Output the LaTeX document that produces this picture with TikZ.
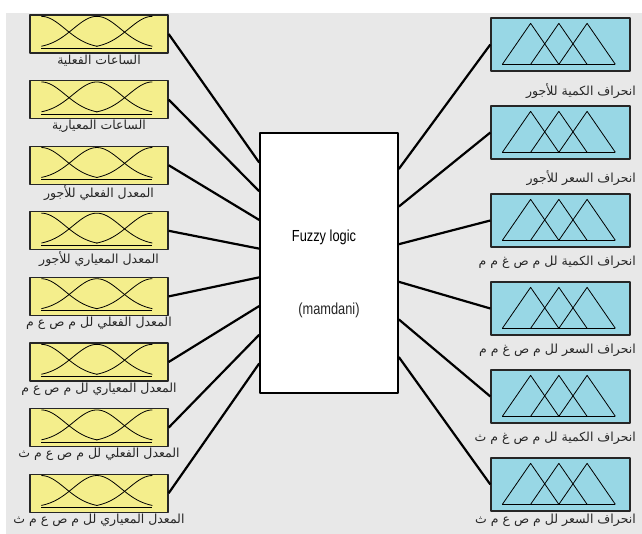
\documentclass[tikz,border=0pt]{standalone}
\usepackage{fontspec}
\setmainfont{Liberation Sans}
\newfontfamily\arabicfont[Script=Arabic]{DejaVu Sans}
\newfontfamily\narrowfont[FakeStretch=0.8]{Liberation Sans}
\TeXXeTstate=1
\usepackage{xcolor}
\usepackage{tikz}
\usetikzlibrary{positioning}

\definecolor{inyellow}{RGB}{244,238,140}
\definecolor{outcyan}{RGB}{152,215,229}
\definecolor{bggray}{RGB}{232,232,232}

\begin{document}
\begin{tikzpicture}[x=1pt, y=-1pt, line join=round,
    inbox/.style={draw=black!85, line width=1.3pt, fill=inyellow,
      minimum width=138pt, minimum height=38pt, inner sep=0pt},
    outbox/.style={draw=black!85, line width=1.3pt, fill=outcyan,
      minimum width=139pt, minimum height=53pt, inner sep=0pt},
    mf/.style={line width=0.8pt, black},
    lbl/.style={font=\arabicfont\fontsize{12.5}{14}\selectfont, inner sep=1pt, text=black!85},
    link/.style={line width=2.2pt, black}]
    \useasboundingbox (0,0) rectangle (642,534);
    \fill[bggray] (6,13) rectangle (642,534);

    % rule block
    \node[draw, line width=1.6pt, fill=white, minimum width=138pt,
      minimum height=260pt, inner sep=0pt] (fis) at (329,263) {};
    \node[font=\narrowfont\fontsize{16}{18}\selectfont] (fistitle) at (324,237) {Fuzzy logic};
    \node[font=\narrowfont\fontsize{16}{18}\selectfont, text=black!85] (fistype) at (329,310) {(mamdani)};

    % inputs
    \foreach \i/\t in {1/{الساعات الفعلية}, 2/{الساعات المعيارية},
        3/{المعدل الفعلي للأجور}, 4/{المعدل المعياري للأجور},
        5/{المعدل الفعلي لل م ص ع م}, 6/{المعدل المعياري لل م ص ع م},
        7/{المعدل الفعلي لل م ص ع م ث}, 8/{المعدل المعياري لل م ص ع م ث}}{
      \node[inbox] (in\i) at (99,{34+65.6*(\i-1)}) {};
      \begin{scope}[shift={(in\i.north west)}]
        \draw[mf] (12,34) -- (123,34);
        \draw[mf] plot[domain=12:68, samples=30]
          (\x,{2+32*(1-exp(-((\x-12)^2)/1133))});
        \draw[mf] plot[domain=12:123, samples=50]
          (\x,{2+32*(1-exp(-((\x-67.5)^2)/1133))});
        \draw[mf] plot[domain=67:123, samples=30]
          (\x,{2+32*(1-exp(-((\x-123)^2)/1133))});
      \end{scope}
      \node[lbl, below=0pt of in\i] (inlbl\i) {\beginR\t\endR};
      \draw[link] (in\i.east) -- ([yshift={(4.5-\i)*28.7pt}]fis.west);
    }

    % outputs
    \foreach \i/\ly/\t in {1/91/{انحراف الكمية للأجور}, 2/178/{انحراف السعر للأجور},
        3/262/{انحراف الكمية لل م ص غ م م}, 4/350/{انحراف السعر لل م ص غ م م},
        5/438/{انحراف الكمية لل م ص غ م ث}, 6/520/{انحراف السعر لل م ص ع م ث}}{
      \node[outbox] (out\i) at (560.5,{44.5+88*(\i-1)}) {};
      \begin{scope}[shift={(out\i.north west)}]
        \draw[mf] (12,47) -- (125,47);
        \foreach \k in {0,1,2}{
          \draw[mf] ({12+28.25*\k},47) -- ({40.25+28.25*\k},6) -- ({68.5+28.25*\k},47);
        }
      \end{scope}
      \node[lbl, anchor=east] (outlbl\i) at (637,\ly) {\beginR\t\endR};
      \draw[link] ([yshift={(3.5-\i)*37.6pt}]fis.east) -- (out\i.west);
    }
  \end{tikzpicture}
\end{document}
